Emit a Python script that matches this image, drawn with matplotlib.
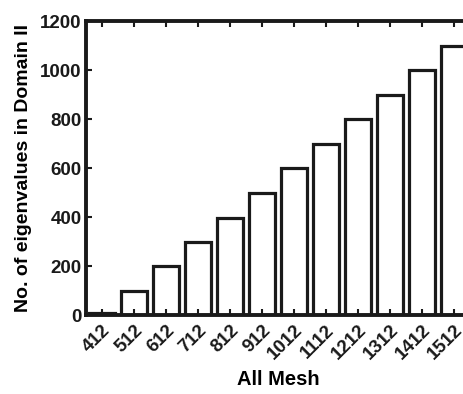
import matplotlib

matplotlib.use("Agg")
import matplotlib.pyplot as plt
import matplotlib.transforms as mtransforms
import numpy as np

meshes = ["412", "512", "612", "712", "812", "912", "1012", "1112", "1212", "1312", "1412", "1512"]
counts = [10, 100, 200, 300, 395, 500, 600, 700, 800, 900, 1000, 1100]
y_ticks = [0, 200, 400, 600, 800, 1000, 1200]

plt.rcParams["font.family"] = ["Liberation Sans", "DejaVu Sans"]
plt.rcParams["font.weight"] = "bold"

fig = plt.figure(figsize=(4.64, 3.94), dpi=100)
ax = fig.add_axes([0.185, 0.2005, 0.828, 0.7462])

pos = np.arange(1, len(counts) + 1)
ax.bar(pos, counts, width=0.8, color="white", edgecolor="#1a1a1a", linewidth=2.3)

ax.set_xlim(0.5, len(counts) + 0.5)
ax.set_ylim(0, 1200)
ax.set_yticks(y_ticks)
ax.set_yticklabels([str(v) for v in y_ticks], fontsize=13.5, fontweight="bold")
ax.set_xticks(pos)
ax.set_xticklabels(meshes, rotation=45, ha="right", rotation_mode="anchor",
                   fontsize=13.5, fontweight="bold")
# nudge the rotated labels to the right like the original
shift = mtransforms.ScaledTranslation(10 / 100, 0, fig.dpi_scale_trans)
for lbl in ax.get_xticklabels():
    lbl.set_transform(lbl.get_transform() + shift)

for side in ax.spines.values():
    side.set_linewidth(2.8)
    side.set_color("#1a1a1a")
ax.tick_params(direction="in", length=4, width=1.5, top=True, right=True, colors="#1a1a1a")
ax.tick_params(axis="y", pad=3)
ax.tick_params(axis="x", pad=5)

ax.set_xlabel("All Mesh", fontsize=14.5, fontweight="bold", labelpad=5)
ax.set_ylabel("No. of eigenvalues in Domain II", fontsize=14, fontweight="bold", labelpad=6)

fig.savefig("out.png", dpi=100)
